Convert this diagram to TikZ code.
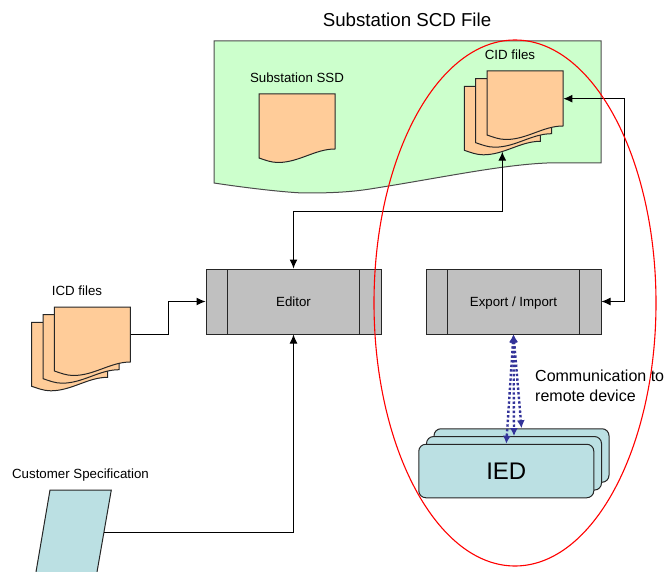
\documentclass[tikz,border=0pt]{standalone}
\usepackage{fontspec}
\setmainfont{Liberation Sans}
\usepackage{xcolor}
\usetikzlibrary{
	arrows.meta,
	shapes.geometric
}
\definecolor{sheetfill}{HTML}{FFCC99}
\definecolor{filegreen}{HTML}{CCFFCC}
\definecolor{paleteal}{HTML}{BBE0E3}
\definecolor{boxgrey}{HTML}{C0C0C0}
\definecolor{linkblue}{HTML}{333399}
\tikzset{
	every node/.append style={
		font=\fontsize{13.3}{16}\selectfont
	},
	outline/.style={
		draw=black!85,
		line width=1pt
	},
	sheetline/.style={
		outline,
		fill=sheetfill
	},
	sheetbox/.style={
		anchor=north west,
		inner sep=0pt,
		minimum width=76pt,
		minimum height=55pt
	},
	docsheet/.pic={
		\draw[sheetline]
			(0,0) -- (76,0) -- (76,55)
			.. controls (56,55) and (40,68.5) .. (19,68.5)
			.. controls (12,68.5) and (6,66) .. (0,64)
			-- cycle;
		\node[sheetbox] (-box) at (0,0) {};
	},
	docstack/.pic={
		\pic at (0,0) {docsheet};
		\pic at (11.4,-7.6) {docsheet};
		\pic (-front) at (22.7,-15.3) {docsheet};
	},
	toolbox/.style={
		outline,
		fill=boxgrey,
		inner sep=0pt,
		text height=13.5pt,
		text depth=3pt,
		minimum width=175pt,
		minimum height=65pt,
		path picture={
			\draw[outline]
				([xshift=21.5pt]path picture bounding box.north west)
				-- ([xshift=21.5pt]path picture bounding box.south west);
			\draw[outline]
				([xshift=-21.5pt]path picture bounding box.north east)
				-- ([xshift=-21.5pt]path picture bounding box.south east);
		}
	},
	iedbox/.style={
		outline,
		fill=paleteal,
		rounded corners=7pt,
		inner sep=0pt,
		minimum width=175pt,
		minimum height=53.5pt
	},
	flow/.style={
		draw=black,
		line width=1pt,
		-{Latex[length=9pt,width=8pt]}
	},
	twoway/.style={
		flow,
		{Latex[length=9pt,width=8pt]}-{Latex[length=9pt,width=8pt]}
	},
	remote/.style={
		draw=linkblue,
		line width=2.4pt,
		dash pattern=on 2.4pt off 2.2pt,
		{Latex[length=8pt,width=8pt]}-{Latex[length=8pt,width=8pt]}
	}
}

\begin{document}
\begin{tikzpicture}[x=1pt,y=-1pt]
	\useasboundingbox (0,0) rectangle (664,572);

	% substation file
	\draw[outline,draw=black!70,fill=filegreen]
		(214,41) -- (601,41) -- (601,163) -- (547,163)
		.. controls (500,165) and (440,178) .. (370,189)
		.. controls (345,193) and (320,193) .. (303,193)
		.. controls (280,192) and (240,187) .. (214,183)
		-- cycle;
	\node[font=\fontsize{18.7}{22}\selectfont] (title) at (407,20) {Substation SCD File};
	\node (ssdlabel) at (297,78) {Substation SSD};
	\node (cidlabel) at (510,55) {CID files};
	\pic (ssd) at (259,94) {docsheet};
	\pic (cid) at (464.3,86.3) {docstack};
	\coordinate (cidin) at (502.3,151.7);

	% tools
	\node[toolbox] (editor) at (293.5,301.5) {Editor};
	\node[toolbox] (export) at (513.5,301.5) {Export / Import};

	% inputs
	\node (icdlabel) at (77,291) {ICD files};
	\pic (icd) at (31.7,322.3) {docstack};
	\node (speclabel) at (80.5,475) {Customer Specification};
	\fill[paleteal] (50,490) -- (111.3,490) -- (97,572) -- (36,572) -- cycle;
	\draw[outline] (36,572) -- (50,490) -- (111.3,490) -- (97,572);
	\coordinate (spec) at (104,532);

	% device
	\node[iedbox] (ied3) at (521.5,455.5) {};
	\node[iedbox] (ied2) at (514,463.3) {};
	\node[iedbox,font=\fontsize{24}{28}\selectfont] (ied1) at (506.3,471) {IED};
	\node[align=left,anchor=west,inner sep=0pt,font=\fontsize{16}{20}\selectfont] (commlabel) at (535,386)
		{Communication to\\remote device};

	% connectors
	\draw[flow] (icd-front-box.east) -- ++(37.6,0) |- (editor.west);
	\draw[flow] (spec) -| (editor.south);
	\draw[twoway] (editor.north) |- (502.3,212) -- (cidin);
	\draw[twoway] (cid-front-box.east) -- ++(61.4,0) |- (export.east);
	\draw[remote] (export.south) -- (ied1.north);
	\draw[remote] (export.south) -- (ied2.north);
	\draw[remote] (export.south) -- (ied3.north);

	% scope of the device
	\node[ellipse,draw=red,line width=1.1pt,inner sep=0pt,minimum width=282pt,minimum height=526pt] (devscope) at (515,303) {};
\end{tikzpicture}
\end{document}
